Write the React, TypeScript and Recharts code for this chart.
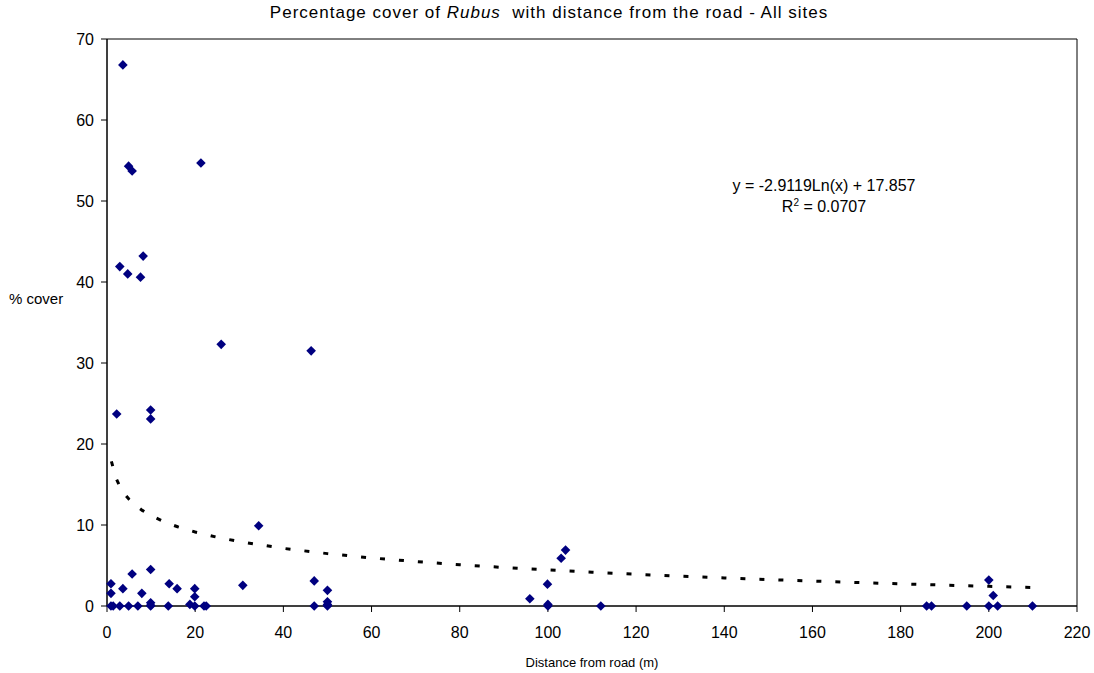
import React from 'react';
import { ScatterChart, Scatter, XAxis, YAxis, ReferenceArea, Label } from 'recharts';

// distance from road (m) and % cover
const distance = [
  3.6, 4.9, 5.7, 21.3, 2.9, 4.7, 8.2, 7.6, 2.2, 9.9, 9.9, 25.9, 46.3, 34.4,
  9.9, 5.7, 0.9, 0.9, 3.6, 7.9, 14.1, 15.9, 19.9, 19.9, 18.8, 9.9, 9.9,
  0.9, 1.4, 2.9, 4.9, 7.0, 9.9, 13.9, 19.9, 22.0, 22.5,
  30.8, 47, 50, 50, 47, 50, 50,
  95.9, 99.9, 100, 100, 103, 104, 112,
  185.9, 187, 195, 200, 200, 201, 202, 209.9,
];
const cover = [
  66.8, 54.3, 53.7, 54.7, 41.9, 41.0, 43.2, 40.6, 23.7, 24.2, 23.1, 32.3, 31.5, 9.9,
  4.5, 3.95, 2.75, 1.56, 2.14, 1.56, 2.75, 2.14, 2.14, 1.15, 0.2, 0.4, 0.1,
  0, 0, 0, 0, 0, 0, 0, 0, 0, 0,
  2.55, 3.1, 1.93, 0.53, 0, 0, 0.2,
  0.9, 2.7, 0, 0.2, 5.9, 6.9, 0,
  0, 0, 0, 3.2, 0, 1.3, 0, 0,
];

// logarithmic trendline as stated on the chart
const trendSlope = -2.9119;
const trendIntercept = 17.857;
const trendX = [1, 2, 3, 4, 5, 6, 8, 10, 13, 16, 20, 25, 30, 40, 50, 60, 70, 80, 90, 100, 110, 120, 130, 140, 150, 160, 170, 180, 190, 200, 210];

const xTicks = [0, 20, 40, 60, 80, 100, 120, 140, 160, 180, 200, 220];
const yTicks = [0, 10, 20, 30, 40, 50, 60, 70];

const points = distance.map((x, i) => ({ x, y: cover[i] }));
const trend = trendX.map(x => ({ x, y: trendSlope * Math.log(x) + trendIntercept }));

const Diamond = (props: any) => {
  const { cx, cy } = props;
  const r = 4.8;
  return <polygon points={`${cx},${cy - r} ${cx + r},${cy} ${cx},${cy + r} ${cx - r},${cy}`} fill="#000080" />;
};

const font = 'Arial, "Liberation Sans", sans-serif';

const App: React.FC = () => {
  return (
    <div style={{ position: 'absolute', left: 0, top: 0, width: 1094, height: 673, background: '#fff', fontFamily: font }}>
      <div style={{ position: 'absolute', left: 0, top: 3, width: 1098, textAlign: 'center', fontSize: 17, letterSpacing: 1, whiteSpace: 'pre' }}>
        Percentage cover of <i>Rubus</i>  with distance from the road - All sites
      </div>
      <div style={{ position: 'absolute', left: 9, top: 290, fontSize: 15 }}>% cover</div>
      <div style={{ position: 'absolute', left: 706, top: 175, width: 236, textAlign: 'center', fontSize: 16, lineHeight: '21px' }}>
        y = -2.9119Ln(x) + 17.857<br />R<sup style={{ fontSize: 10, lineHeight: 0 }}>2</sup> = 0.0707
      </div>
      <ScatterChart width={1094} height={673} margin={{ top: 39, right: 17, bottom: 0, left: 0 }}>
        <XAxis
          type="number"
          dataKey="x"
          domain={[0, 220]}
          ticks={xTicks}
          interval={0}
          height={67}
          stroke="#000"
          tickSize={6}
          tickMargin={15}
          tick={{ fill: '#000', fontSize: 16, fontFamily: font }}
        >
          <Label value="Distance from road (m)" position="insideBottom" offset={6} style={{ fill: '#000', fontSize: 13, fontFamily: font }} />
        </XAxis>
        <YAxis
          type="number"
          dataKey="y"
          domain={[0, 70]}
          ticks={yTicks}
          interval={0}
          width={107}
          stroke="#000"
          tickSize={6}
          tickMargin={7}
          tick={{ fill: '#000', fontSize: 16, fontFamily: font }}
        />
        <ReferenceArea x1={0} x2={220} y1={0} y2={70} fill="none" stroke="#000" strokeWidth={1} />
        <Scatter data={points} shape={<Diamond />} isAnimationActive={false} />
        <Scatter
          data={trend}
          line={{ stroke: '#000', strokeWidth: 3, strokeDasharray: '5 14' }}
          shape={() => null}
          isAnimationActive={false}
        />
      </ScatterChart>
    </div>
  );
};

export default App;
